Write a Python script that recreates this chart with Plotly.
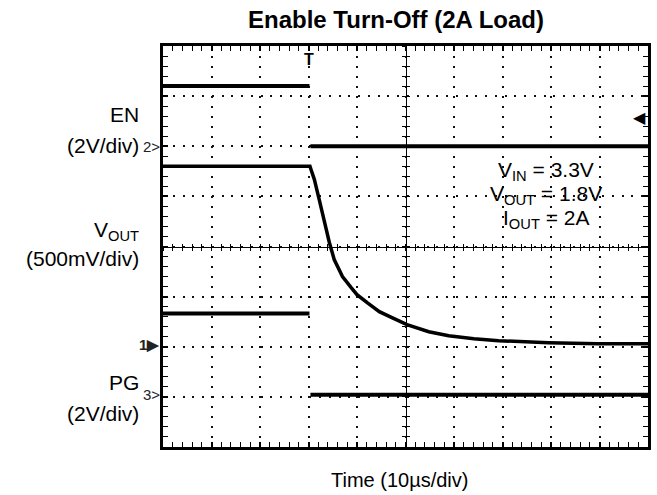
import plotly.graph_objects as go

# ---------------- data (physical units) ----------------
# time in microseconds across the screen (10 us/div, 10 divisions)
t_en = [0, 30.2, None, 30.4, 100]
v_en = [2.4, 2.4, None, 0.0, 0.0]          # EN, 2 V/div

t_pg = [0, 30.2, None, 30.4, 100]
v_pg = [3.25, 3.25, None, 0.0, 0.0]        # PG, 2 V/div

t_vout = [0, 30.3, 30.5, 31.2, 32.2, 33.3, 34.3, 35.3, 37.0, 38.8, 40.0, 42.1,
          44.6, 47.2, 50.3, 54.8, 58.9, 64.1, 69.2, 79.5, 89.7, 100]
v_vout = [1.78, 1.78, 1.75, 1.65, 1.45, 1.22, 1.02, 0.85, 0.68, 0.57, 0.50, 0.42,
          0.33, 0.27, 0.20, 0.13, 0.09, 0.06, 0.04, 0.02, 0.01, 0.01]  # VOUT, 0.5 V/div

# channel settings: (volts per division, ground position in divisions)
en_scale, en_offset = 2.0, 6.0
vout_scale, vout_offset = 0.5, 2.04
pg_scale, pg_offset = 2.0, 1.04

title_text = "Enable Turn-Off (2A Load)"
xlabel_text = "Time (10µs/div)"

def to_div(vals, scale, offset):
    return [None if v is None else offset + v / scale for v in vals]

FONT = "Arial, Liberation Sans, sans-serif"

fig = go.Figure()
line = dict(color="black", width=4)
fig.add_trace(go.Scatter(x=t_en, y=to_div(v_en, en_scale, en_offset), mode="lines",
                         line=line, connectgaps=False, showlegend=False, hoverinfo="skip"))
fig.add_trace(go.Scatter(x=t_vout, y=to_div(v_vout, vout_scale, vout_offset), mode="lines",
                         line=dict(color="black", width=3.5),
                         showlegend=False, hoverinfo="skip"))
fig.add_trace(go.Scatter(x=t_pg, y=to_div(v_pg, pg_scale, pg_offset), mode="lines",
                         line=line, connectgaps=False, showlegend=False, hoverinfo="skip"))

# empty traces so that the centre graticule axes get drawn
for xa, ya in [("x2", "y"), ("x3", "y"), ("x", "y2"), ("x", "y3")]:
    fig.add_trace(go.Scatter(x=[], y=[], xaxis=xa, yaxis=ya, showlegend=False, hoverinfo="skip"))

base_ax = dict(showticklabels=False, zeroline=False, tickcolor="black", fixedrange=True)

fig.update_layout(
    width=657, height=495,
    margin=dict(l=163, r=6, t=46, b=48),
    paper_bgcolor="white", plot_bgcolor="white",
    font=dict(family=FONT, color="black"),
    xaxis=dict(range=[0, 100], tick0=0, dtick=10, showgrid=True, gridcolor="#111",
               gridwidth=2, griddash="2px,8px", ticks="inside", ticklen=5, tickwidth=1.5,
               showline=True, linecolor="black", linewidth=2.5, mirror="allticks",
               minor=dict(dtick=2, ticks="inside", ticklen=4, tickwidth=1, tickcolor="black",
                          showgrid=False), **base_ax),
    yaxis=dict(range=[0, 8], tick0=0, dtick=1, showgrid=True, gridcolor="#111",
               gridwidth=2, griddash="2px,7.76px", ticks="inside", ticklen=5, tickwidth=1.5,
               showline=True, linecolor="black", linewidth=2.5, mirror="allticks",
               minor=dict(dtick=0.2, ticks="inside", ticklen=4, tickwidth=1, tickcolor="black",
                          showgrid=False), **base_ax),
    xaxis2=dict(overlaying="x", anchor="free", position=0.5, range=[0, 100], tick0=0, dtick=2,
                showgrid=False, showline=True, linecolor="black", linewidth=1.2,
                ticks="outside", ticklen=3, tickwidth=1, **base_ax),
    xaxis3=dict(overlaying="x", anchor="free", position=0.5, range=[0, 100], tick0=0, dtick=2,
                showgrid=False, showline=False, ticks="inside", ticklen=3, tickwidth=1, **base_ax),
    yaxis2=dict(overlaying="y", anchor="free", position=0.5, range=[0, 8], tick0=0, dtick=0.2,
                showgrid=False, showline=True, linecolor="black", linewidth=1.2,
                ticks="outside", ticklen=3, tickwidth=1, **base_ax),
    yaxis3=dict(overlaying="y", anchor="free", position=0.5, range=[0, 8], tick0=0, dtick=0.2,
                showgrid=False, showline=False, ticks="inside", ticklen=3, tickwidth=1, **base_ax),
)

ann = []
# title and x label
ann.append(dict(text="<b>" + title_text + "</b>", xref="paper", yref="paper",
                x=(397 - 163) / 488, y=1 + 27 / 401, xanchor="center",
                yanchor="middle", showarrow=False, font=dict(size=24)))
ann.append(dict(text=xlabel_text, xref="paper", yref="paper",
                x=(401 - 163) / 488, y=-33 / 401, xanchor="center", yanchor="middle",
                showarrow=False, font=dict(size=20)))

# left channel labels
left_labels = [("EN", 6.64), ("(2V/div)", 6.02), ("V<sub>OUT</sub>", 4.30),
               ("(500mV/div)", 3.76), ("PG", 1.28), ("(2V/div)", 0.66)]
for txt, yy in left_labels:
    ann.append(dict(text=txt, xref="x", yref="y", x=0, y=yy, xanchor="right",
                    yanchor="middle", xshift=-22, showarrow=False, font=dict(size=21)))

# ground markers
for txt, yy in [("2>", en_offset), ("<b>1▶</b>", vout_offset), ("3>", pg_offset)]:
    ann.append(dict(text=txt, xref="x", yref="y", x=0, y=yy, xanchor="right",
                    yanchor="middle", xshift=-1, showarrow=False,
                    font=dict(size=15, color="#222")))

# trigger markers
ann.append(dict(text="<b>T</b>", xref="x", yref="y", x=30, y=8, xanchor="center",
                yanchor="top", yshift=-3, showarrow=False, font=dict(size=16)))
ann.append(dict(text="◀", xref="x", yref="y", x=98.3, y=6.58, xanchor="center",
                yanchor="middle", showarrow=False, font=dict(size=16)))

# conditions text
cond = [("V<sub>IN</sub> = 3.3V", 5.50), ("V<sub>OUT</sub> = 1.8V", 5.03),
        ("I<sub>OUT</sub> = 2A", 4.54)]
for txt, yy in cond:
    ann.append(dict(text=txt, xref="x", yref="y", x=79.0, y=yy, xanchor="center",
                    yanchor="middle", showarrow=False, font=dict(size=21)))

fig.update_layout(annotations=ann)
fig.write_html("out.html", config={"displayModeBar": False},
               post_script="document.body.style.margin='0';document.body.style.overflow='hidden';")
